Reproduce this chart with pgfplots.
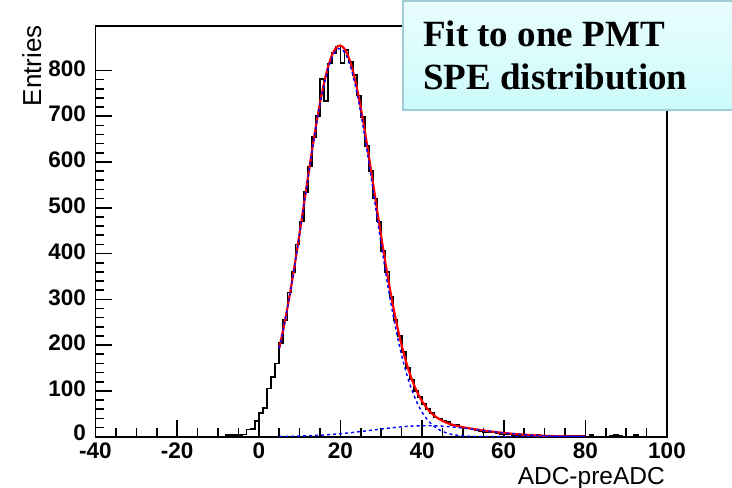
\documentclass[border=0pt]{standalone}
\usepackage{fontspec}
\setmainfont{Liberation Serif}
\newfontfamily\arial{Liberation Sans}
\usepackage{pgfplots}
\pgfplotsset{compat=1.18}
\definecolor{boxtop}{HTML}{E9FDFD}
\definecolor{boxbot}{HTML}{CCFBFB}
\definecolor{boxline}{HTML}{A3CDD6}
\begin{document}
\begin{tikzpicture}[x=1pt,y=1pt]
\path[use as bounding box] (0,0) rectangle (732,488);
\fill[white] (0,0) rectangle (732,488);
\begin{axis}[
  at={(95.5pt,51.3pt)}, anchor=south west,
  scale only axis, width=571.5pt, height=410.7pt,
  xmin=-40, xmax=100, ymin=0, ymax=897,
  xtick={-40,-20,0,20,40,60,80,100},
  xticklabels={-40,-20,0,20,40,60,80,100},
  ytick={0,100,200,300,400,500,600,700,800},
  yticklabels={\raisebox{5pt}{0},100,200,300,400,500,600,700,800},
  minor x tick num=3, minor y tick num=4,
  tick align=inside, xtick pos=bottom, ytick pos=left,
  major tick length=17pt, minor tick length=8.5pt,
  axis line style={line width=1.8pt},
  tick style={black, line width=1.6pt},
  tick label style={font=\arial\bfseries\fontsize{22.5}{22.5}\selectfont, inner sep=0pt},
  xticklabel style={anchor=north, yshift=-6pt},
  yticklabel style={anchor=east, xshift=-9.5pt, yshift=2pt},
]
\addplot[const plot, black, line width=1.7pt] coordinates {
(-40,0) (-8,3) (-7,3) (-6,4) (-5,4) (-4,5) (-3,16) (-2,17) (-1,35) (0,52) (1,62) (2,105) (3,130) (4,160) (5,205) (6,255) (7,315) (8,360) (9,420) (10,470) (11,535) (12,590) (13,655) (14,700) (15,781) (16,733) (17,815) (18,838) (19,852) (20,816) (21,845) (22,818) (23,790) (24,745) (25,698) (26,635) (27,580) (28,520) (29,470) (30,405) (31,360) (32,305) (33,255) (34,220) (35,185) (36,150) (37,125) (38,100) (39,86) (40,71) (41,60) (42,51) (43,42) (44,38) (45,35) (46,32) (47,26) (48,25) (49,22) (50,19) (51,18) (52,17) (53,15) (54,12) (55,11) (56,10) (57,9) (58,8) (59,6) (60,5) (61,5) (62,4) (63,4) (64,3) (65,4) (66,3) (67,2) (68,3) (69,2) (70,2) (71,2) (72,1) (73,2) (74,1) (75,1) (76,2) (77,1) (78,1) (79,1) (80,0) (81,3) (82,0) (86,2) (87,3) (88,2) (89,0) (92,3) (93,0) (100,0)
};
% total fit
\addplot[red, line width=2.2pt, smooth] coordinates {
(5,193.3) (6,234.6) (7,280.9) (8,331.8) (9,386.6) (10,444.4) (11,504.1) (12,564.0) (13,622.7) (14,678.2) (15,728.9) (16,772.9) (17,808.6) (18,834.6) (19,850.0) (20,854.3) (21,847.2) (22,829.0) (23,800.5) (24,762.9) (25,717.6) (26,666.2) (27,610.6) (28,552.8) (29,494.1) (30,436.5) (31,381.0) (32,328.8) (33,281.0) (34,237.7) (35,199.4) (36,166.1) (37,137.6) (38,113.7) (39,93.8) (40,77.6) (41,64.6) (42,54.2) (43,46.0) (44,39.6) (45,34.5) (46,30.5) (47,27.3) (48,24.7) (49,22.6) (50,20.7) (52,17.6) (54,14.9) (56,12.4) (58,10.2) (60,8.2) (62,6.5) (64,5.0) (66,3.8) (68,2.8) (70,2.0) (72,1.4) (74,1.0) (76,0.6) (78,0.4) (80,0.3)
};
% main SPE component
\addplot[blue, line width=1.4pt, dash pattern=on 3pt off 3pt, smooth] coordinates {
(5,192.8) (6,234.0) (7,280.1) (8,330.8) (9,385.4) (10,443.0) (11,502.4) (12,562.0) (13,620.3) (14,675.4) (15,725.6) (16,769.1) (17,804.2) (18,829.6) (19,844.3) (20,847.8) (21,839.8) (22,820.7) (23,791.3) (24,752.7) (25,706.3) (26,653.9) (27,597.2) (28,538.2) (29,478.4) (30,419.7) (31,363.1) (32,309.9) (33,261.1) (34,216.9) (35,177.8) (36,143.8) (37,114.7) (38,90.3) (39,70.1) (40,53.7) (41,40.6) (42,30.3) (43,22.3) (44,16.2) (45,11.6) (46,8.2) (47,5.7) (48,3.9) (49,2.7) (50,1.8) (52,0.8) (55,0.2) (60,0) (70,0) (80,0)
};
% broad component
\addplot[blue, line width=1.4pt, dash pattern=on 3pt off 3pt, smooth] coordinates {
(5,0.5) (10,1.4) (15,3.3) (20,6.5) (25,11.3) (30,16.8) (35,21.6) (38,23.4) (41,24) (44,23.4) (47,21.6) (50,18.9) (55,13.4) (60,8.2) (65,4.4) (70,2.0) (75,0.8) (80,0.3)
};
\end{axis}
\node[rotate=90, anchor=south east, inner sep=0pt, font=\arial\fontsize{26}{26}\selectfont] at (41.7,463) {Entries};
\node[anchor=north east, inner sep=0pt, font=\arial\fontsize{24.5}{24.5}\selectfont] at (665,21) {ADC-preADC};
\shade[top color=boxtop, bottom color=boxbot] (403,378) rectangle (745,487);
\draw[boxline, line width=1.5pt] (403,378) rectangle (745,487);
\node[anchor=base west, inner sep=0pt, font=\bfseries\fontsize{37}{37}\selectfont] at (423,441.3) {Fit to one PMT};
\node[anchor=base west, inner sep=0pt, font=\bfseries\fontsize{37}{37}\selectfont] at (423,398) {SPE distribution};
\end{tikzpicture}
\end{document}
